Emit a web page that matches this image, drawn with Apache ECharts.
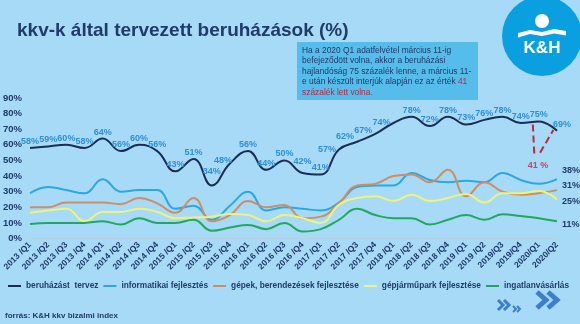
<!DOCTYPE html>
<html><head><meta charset="utf-8">
<script src="https://cdn.jsdelivr.net/npm/echarts@6/dist/echarts.min.js"></script>
<style>html,body{margin:0;padding:0;background:#a7daf6;}#c{width:580px;height:324px;}</style>
</head><body><div id="c"></div>
<script>
const categories = ['2013 /Q1','2013 /Q2','2013 /Q3','2013 /Q4','2014 /Q1','2014 /Q2','2014 /Q3','2014 /Q4',
  '2015 /Q1','2015 /Q2','2015 /Q3','2015 /Q4','2016 /Q1','2016 /Q2','2016 /Q3','2016 /Q4',
  '2017 /Q1','2017 /Q2','2017 /Q3','2017 /Q4','2018 /Q1','2018 /Q2','2018 /Q3','2018 /Q4',
  '2019 /Q1','2019 /Q2','2019/Q3','2019/Q4','2020/Q1','2020/Q2'];
const beruhazas   = [58,59,60,58,64,56,60,56,43,51,34,48,56,44,50,42,41,57,62,67,74,78,72,78,73,76,78,74,75,69];
const informatikai= [29,33,31,29,38,30,31,31,19,21,12,21,30,18,20,19,18,23,33,34,34,42,37.5,36,37,36,42,37.5,35,38];
const gepek       = [20,20,23,23,23,22,26,22.5,16.5,26,11,15,24,20,21.5,13,14,22.5,34,35,40,41,36,44,27,36,30,28,29,31];
const gepjarmu    = [16.5,18,19,11,17,17,19,17,13,13.5,14,15.7,15,11,15,13,10,21.5,26,27,24,28,24,26,28.5,23,29,29,30.5,25];
const ingatlan    = [9.3,10,10,10,11,9,13,10,10,12,5,7,8.7,6,10,4.5,6,12,19,15,13,13,9,12,15,12,15.5,14.4,13,11];
const yTicks = [0,10,20,30,40,50,60,70,80,90];
const seriesNames = ['beruházást  tervez','informatikai fejlesztés','gépek, berendezések fejlesztése','gépjárműpark fejlesztése','ingatlanvásárlás'];
// alternative 2020 Q1 value (interviews after March 11) and the dashed pointer lines (category index, value)
const altValue = 41;
const altPoint = [27.95, 41];
const pointerA = [[27.67, 73], [27.75, 54]];
const pointerB = [[28.07, 55], [28.8, 69.5]];

const NAVY = '#1f3a6b';
const labelStyle = {
  17: {position:'left', distance:3},
  18: {position:'left', distance:3, offset:[0,-5]},
  19: {position:'left', distance:3, offset:[0,-3]},
  20: {position:'left', distance:3},
  10: {distance:9},
  15: {distance:7},
  11: {offset:[-7,3]},
  29: {offset:[5,0]}
};
const mainData = beruhazas.map((v,i)=> labelStyle[i] ? {value:v, label:labelStyle[i]} : v);

const chart = echarts.init(document.getElementById('c'), null, {renderer:'canvas'});
const FONT = 'Liberation Sans, Arial, sans-serif';
function endL(off){ return {show:true, formatter:p=>p.value+'%', distance:5, offset:off, color:NAVY, fontWeight:'bold', fontSize:9, fontFamily:FONT}; }
const opt = {
  backgroundColor:'#a7daf6',
  animation:false,
  textStyle:{fontFamily:FONT},
  title:{text:'kkv-k által tervezett beruházások (%)', left:12, top:16,
    textStyle:{fontSize:19, fontWeight:'bold', color:NAVY, fontFamily:FONT}},
  grid:{left:30, right:23, top:98, bottom:85.5, containLabel:false},
  legend:{left:3, top:277, itemWidth:13, itemHeight:2, itemGap:5, icon:'rect',
    textStyle:{fontSize:8.3, fontWeight:'bold', color:NAVY, fontFamily:FONT},
    data:seriesNames},
  xAxis:[{type:'category', data:categories, boundaryGap:false,
    axisLine:{show:true, lineStyle:{color:'#b9cfdf', width:1}}, axisTick:{show:false},
    axisLabel:{rotate:45, fontSize:8.5, fontWeight:'bold', color:NAVY, margin:5, interval:0, fontFamily:FONT}},
    {type:'value', min:0, max:categories.length-1, show:false}],
  yAxis:{type:'value', min:0, max:90, interval:10, splitLine:{show:false},
    axisLine:{show:false}, axisTick:{show:false},
    axisLabel:{formatter:'{value}%', fontSize:9.5, fontWeight:'bold', color:NAVY, margin:8, fontFamily:FONT}},
  series:[
    {name:seriesNames[0], type:'line', smooth:0.45, symbol:'circle', symbolSize:0.1, showSymbol:true, data:mainData, z:5,
      lineStyle:{color:'#1b2d55', width:2}, itemStyle:{color:'#1b2d55'},
      label:{show:true, position:'top', distance:2, formatter:'{c}%', fontSize:9, fontWeight:'bold', color:'#2f8fd6', fontFamily:FONT}},
    {name:seriesNames[1], type:'line', smooth:0.45, symbol:'none', data:informatikai,
      lineStyle:{color:'#2aa8e2', width:2}, itemStyle:{color:'#2aa8e2'}, endLabel:endL([0,-9])},
    {name:seriesNames[2], type:'line', smooth:0.45, symbol:'none', data:gepek,
      lineStyle:{color:'#cf8d64', width:2}, itemStyle:{color:'#cf8d64'}, endLabel:endL([0,-5])},
    {name:seriesNames[3], type:'line', smooth:0.45, symbol:'none', data:gepjarmu,
      lineStyle:{color:'#eef37a', width:2}, itemStyle:{color:'#eef37a'}, endLabel:endL([0,2])},
    {name:seriesNames[4], type:'line', smooth:0.45, symbol:'none', data:ingatlan,
      lineStyle:{color:'#22a85c', width:2}, itemStyle:{color:'#22a85c'}, endLabel:endL([0,3])},
    {type:'line', xAxisIndex:1, symbol:'none', data:pointerA, silent:true,
      lineStyle:{color:'#c3263d', width:2, type:[7,4]}},
    {type:'line', xAxisIndex:1, symbol:'none', data:pointerB, silent:true,
      lineStyle:{color:'#c3263d', width:2, type:[7,4]}},
    {type:'scatter', xAxisIndex:1, symbol:'circle', symbolSize:0.1, data:[altPoint], silent:true,
      itemStyle:{color:'rgba(0,0,0,0)'},
      label:{show:true, position:'top', distance:4, formatter:()=>altValue+' %', color:'#c3263d', fontWeight:'bold', fontSize:9, fontFamily:FONT}}
  ],
  graphic:[
    {type:'circle', shape:{cx:542, cy:36, r:40}, style:{fill:'#0aa0e0'}, z:1},
    {type:'circle', shape:{cx:542, cy:21, r:7}, style:{fill:'#ffffff'}, z:2},
    {type:'polygon', shape:{points:[[518,33],[530,30],[542,32],[554,29],[566,31],[566,35.5],[554,33.5],[542,36],[530,34],[518,37.5]]}, style:{fill:'#ffffff'}, z:2},
    {type:'text', x:542, y:48, style:{text:'K&H', fill:'#ffffff', font:'bold 17px '+FONT, textAlign:'center', textVerticalAlign:'middle'}, z:2},
    {type:'rect', shape:{x:297, y:42, width:181, height:58}, style:{fill:'#56bdea'}, z:1},
    {type:'text', x:302, y:45, z:2, style:{
      text:'Ha a 2020 Q1 adatfelvétel március 11-ig\nbefejeződött volna, akkor a beruházási\nhajlandóság 75 százalék lenne, a március 11-\ne után készült interjúk alapján ez az érték {r|41}\n{r|százalék lett volna.}',
      font:'8.4px '+FONT, fill:NAVY, lineHeight:10.6,
      rich:{r:{fill:'#c0253d', font:'8.4px '+FONT, lineHeight:10.6}}}},
    {type:'text', x:5, y:312, style:{text:'forrás: K&H kkv bizalmi index', font:'bold 8px '+FONT, fill:NAVY}},
    {type:'polyline', shape:{points:[[498,300],[503,305],[498,310]]}, style:{stroke:'#3b7fc8', lineWidth:3, fill:null}},
    {type:'polyline', shape:{points:[[504,300],[509,305],[504,310]]}, style:{stroke:'#3b7fc8', lineWidth:3, fill:null}},
    {type:'polyline', shape:{points:[[513,306],[516,309],[513,312]]}, style:{stroke:'#3b7fc8', lineWidth:2, fill:null}},
    {type:'polyline', shape:{points:[[517,306],[520,309],[517,312]]}, style:{stroke:'#3b7fc8', lineWidth:2, fill:null}},
    {type:'polyline', shape:{points:[[537,292],[546,300],[537,308]]}, style:{stroke:'#3b7fc8', lineWidth:5, fill:null}},
    {type:'polyline', shape:{points:[[548,292],[557,300],[548,308]]}, style:{stroke:'#3b7fc8', lineWidth:5, fill:null}}
  ]
};
chart.setOption(opt);
</script></body></html>
